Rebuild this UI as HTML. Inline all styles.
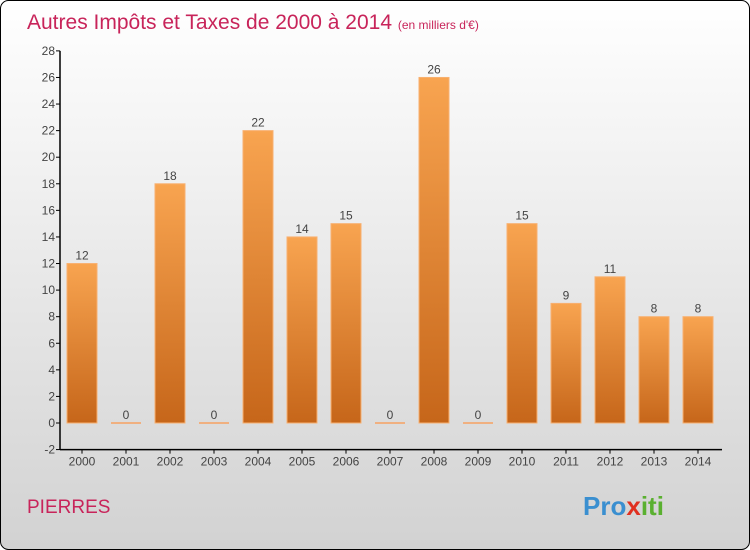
<!DOCTYPE html>
<html><head><meta charset="utf-8"><style>
body{margin:0;}
svg{display:block;font-family:"Liberation Sans",sans-serif;}
</style></head><body>
<svg width="750" height="550">
<defs>
<linearGradient id="bg" x1="0" y1="0" x2="0" y2="1"><stop offset="0" stop-color="#ffffff"/><stop offset="1" stop-color="#d2d2d2"/></linearGradient>
<linearGradient id="bar" x1="0" y1="0" x2="0" y2="1"><stop offset="0" stop-color="#f8a450"/><stop offset="1" stop-color="#c6661a"/></linearGradient>
</defs>
<rect x="0.5" y="0.5" width="749" height="549" rx="8" fill="url(#bg)" stroke="#000"/>
<text x="27" y="29" font-size="21" fill="#c8245a">Autres Impôts et Taxes de 2000 à 2014 <tspan font-size="12">(en milliers d'€)</tspan></text>
<g id="axes"></g>
<g id="bars"></g>
<text x="27" y="513" font-size="19" fill="#c8245a">PIERRES</text>
<text x="583" y="515" font-size="26" font-weight="bold" fill="#3a8fd0">Pro<tspan fill="#e03020">x</tspan><tspan fill="#5ab030">iti</tspan></text>
</svg>
<script>
const years=["2000","2001","2002","2003","2004","2005","2006","2007","2008","2009","2010","2011","2012","2013","2014"];
const values=[12,0,18,0,22,14,15,0,26,0,15,9,11,8,8];
const yTicks=[-2,0,2,4,6,8,10,12,14,16,18,20,22,24,26,28];
const NS="http://www.w3.org/2000/svg";
const y=v=>423-v*13.29;
const x=i=>82+i*44;
const ax=document.getElementById('axes'),bg=document.getElementById('bars');
function mk(tag,at,parent,txt){const e=document.createElementNS(NS,tag);for(const k in at)e.setAttribute(k,at[k]);if(txt!==undefined)e.textContent=txt;parent.appendChild(e);return e;}
let l=mk('line',{x1:60,y1:y(28),x2:60,y2:y(-2),stroke:'#000','stroke-width':1.5},ax);


l=mk('line',{x1:60,y1:y(-2),x2:722,y2:y(-2),stroke:'#000','stroke-width':1.5},ax);


yTicks.forEach(t=>{
 mk('line',{x1:56,y1:y(t),x2:60,y2:y(t),stroke:'#000'},ax);
 const e=mk('text',{x:55,y:y(t)+4,'font-size':12,fill:'#444','text-anchor':'end'},ax,t);
 
 
});
years.forEach((yr,i)=>{
 mk('line',{x1:x(i),y1:y(-2),x2:x(i),y2:y(-2)+4,stroke:'#000'},ax);
 const e=mk('text',{x:x(i),y:y(-2)+16,'font-size':12,fill:'#444','text-anchor':'middle'},ax,yr);
 
 
 const v=values[i];
 let r;
 if(v===0) r=mk('rect',{x:x(i)-15,y:y(0)-1,width:30,height:2,fill:'#f0b080'},bg);
 else r=mk('rect',{x:x(i)-15,y:y(v),width:30,height:y(0)-y(v),fill:'url(#bar)',stroke:'#f8b070','stroke-width':1},bg);
 
 
 const lb=mk('text',{x:x(i),y:y(v)-4,'font-size':12,fill:'#444','text-anchor':'middle'},bg,v);
 
 
});
</script>
</body></html>
